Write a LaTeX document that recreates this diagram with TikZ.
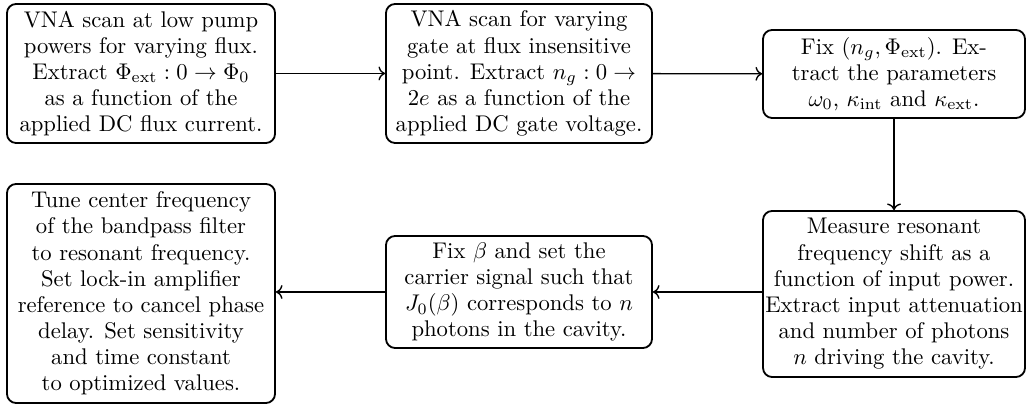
\documentclass[tikz,border=0pt]{standalone}
\usepackage{amsmath}
\usetikzlibrary{arrows.meta}

\tikzset{
  stepbox/.style={draw, line width=0.8pt, rounded corners=4pt, align=center,
    inner xsep=1pt, inner ysep=0pt,
    font={\fontsize{10}{11.55}\selectfont}},
  flow/.style={line width=0.6pt, ->},
}

\begin{document}
\begin{tikzpicture}[x=0.441pt, y=-0.441pt]
  \useasboundingbox (0,0) rectangle (1026,407);

  \node[stepbox, minimum width=268*0.441pt, minimum height=139*0.441pt] (scanflux) at (141,73.5)
    {VNA scan at low pump\\ powers for varying flux.\\ Extract $\Phi_{\mathrm{ext}} : 0 \to \Phi_0$\\ as a function of the\\ applied DC flux current.};

  \node[stepbox, minimum width=266*0.441pt, minimum height=139*0.441pt] (scangate) at (519,73.5)
    {VNA scan for varying\\ gate at flux insensitive\\ point. Extract $n_g : 0 \to$\\ $2e$ as a function of the\\ applied DC gate voltage.};

  \node[stepbox, minimum width=262*0.441pt, minimum height=88*0.441pt] (params) at (894,74)
    {Fix $(n_g, \Phi_{\mathrm{ext}})$. Ex-\\ tract the parameters\\ $\omega_0$, $\kappa_{\mathrm{int}}$ and $\kappa_{\mathrm{ext}}$.};

  \node[stepbox, minimum width=262*0.441pt, minimum height=166*0.441pt] (shift) at (894,294)
    {Measure resonant\\ frequency shift as a\\ function of input power.\\ Extract input attenuation\\ and number of photons\\ $n$ driving the cavity.};

  \node[stepbox, minimum width=266*0.441pt, minimum height=112*0.441pt] (carrier) at (519,292)
    {Fix $\beta$ and set the\\ carrier signal such that\\ $J_0(\beta)$ corresponds to $n$\\ photons in the cavity.};

  \node[stepbox, minimum width=268*0.441pt, minimum height=219*0.441pt] (lockin) at (141,293.5)
    {Tune center frequency\\ of the bandpass filter\\ to resonant frequency.\\ Set lock-in amplifier\\ reference to cancel phase\\ delay. Set sensitivity\\ and time constant\\ to optimized values.};

  \draw[flow] (scanflux) -- (scangate);
  \draw[flow] (scangate) -- (params);
  \draw[flow] (params) -- (shift);
  \draw[flow] (shift.west |- carrier) -- (carrier);
  \draw[flow] (carrier) -- (lockin.east |- carrier);
\end{tikzpicture}
\end{document}
